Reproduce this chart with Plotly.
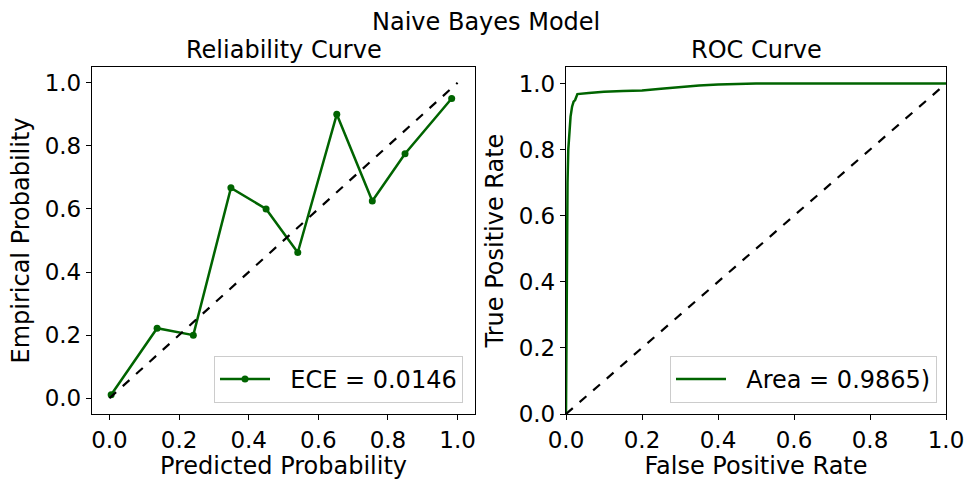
import plotly.graph_objects as go

# Reliability curve data
pred_prob = [0.005, 0.137, 0.241, 0.349, 0.450, 0.541, 0.653, 0.755, 0.849, 0.983]
emp_prob = [0.011, 0.222, 0.200, 0.667, 0.600, 0.462, 0.900, 0.625, 0.775, 0.950]
diag = [0.0, 1.0]

# ROC curve data
fpr = [0.0, 0.002, 0.004, 0.006, 0.009, 0.012, 0.016, 0.020, 0.024, 0.027, 0.030,
       0.06, 0.10, 0.15, 0.20, 0.25, 0.30, 0.35, 0.40, 0.45, 0.50, 1.0]
tpr = [0.0, 0.45, 0.70, 0.80, 0.86, 0.90, 0.93, 0.945, 0.950, 0.958, 0.968,
       0.971, 0.975, 0.977, 0.979, 0.984, 0.990, 0.994, 0.997, 0.999, 1.0, 1.0]

ece_label = "ECE = 0.0146"
auc_label = "Area = 0.9865)"

GREEN = "#006400"
FONT = "DejaVu Sans"
FS = 24
W, H = 971, 480
PAD = "\u00a0\u00a0"

fig = go.Figure()
fig.add_trace(go.Scatter(x=pred_prob, y=emp_prob, mode="lines+markers", name=PAD + ece_label,
                         line=dict(color=GREEN, width=2.5), marker=dict(size=7, color=GREEN),
                         xaxis="x", yaxis="y", legend="legend"))
fig.add_trace(go.Scatter(x=diag, y=diag, mode="lines", showlegend=False,
                         line=dict(color="black", width=2.2, dash="dash"),
                         xaxis="x", yaxis="y"))
fig.add_trace(go.Scatter(x=fpr, y=tpr, mode="lines", name=PAD + auc_label,
                         line=dict(color=GREEN, width=2.5),
                         xaxis="x2", yaxis="y2", legend="legend2"))
fig.add_trace(go.Scatter(x=diag, y=diag, mode="lines", showlegend=False,
                         line=dict(color="black", width=2.2, dash="dash"),
                         xaxis="x2", yaxis="y2"))

def ax(domain, rng, title, anchor, standoff):
    return dict(domain=domain, range=rng, anchor=anchor, automargin=False,
                showline=True, mirror=True, linecolor="black", linewidth=1.3,
                ticks="outside", ticklen=5, tickwidth=1.3, tickcolor="black",
                showgrid=False, zeroline=False, tick0=0, dtick=0.2, tickformat=".1f",
                tickfont=dict(family=FONT, size=23, color="black"),
                title=dict(text=title, font=dict(family=FONT, size=FS, color="black"), standoff=standoff))

xd1 = [92 / W, 475 / W]
xd2 = [566 / W, 946 / W]
yd = [1 - 414 / H, 1 - 67 / H]

legend_common = dict(xanchor="right", yanchor="bottom", bgcolor="white",
                     bordercolor="#cccccc", borderwidth=1, itemwidth=50,
                     font=dict(family=FONT, size=FS, color="black"))

fig.update_layout(
    width=W, height=H,
    margin=dict(l=0, r=0, t=0, b=0),
    paper_bgcolor="white", plot_bgcolor="white",
    font=dict(family=FONT, size=FS, color="black"),
    xaxis=ax(xd1, [-0.05, 1.05], "Predicted Probability", "y", 8),
    yaxis=ax(yd, [-0.05, 1.05], "Empirical Probability", "x", 8),
    xaxis2=ax(xd2, [0, 1], "False Positive Rate", "y2", 8),
    yaxis2=ax(yd, [0, 1.05], "True Positive Rate", "x2", 8),
    legend=dict(x=463 / W, y=1 - 403 / H, **legend_common),
    legend2=dict(x=937 / W, y=1 - 403 / H, **legend_common),
    annotations=[
        dict(text="Naive Bayes Model", x=0.5, y=1 - 22 / H, xref="paper", yref="paper",
             showarrow=False, xanchor="center", yanchor="middle", font=dict(family=FONT, size=FS)),
        dict(text="Reliability Curve", x=(xd1[0] + xd1[1]) / 2, y=1 - 50 / H, xref="paper", yref="paper",
             showarrow=False, xanchor="center", yanchor="middle", font=dict(family=FONT, size=FS)),
        dict(text="ROC Curve", x=(xd2[0] + xd2[1]) / 2, y=1 - 50 / H, xref="paper", yref="paper",
             showarrow=False, xanchor="center", yanchor="middle", font=dict(family=FONT, size=FS)),
    ],
)

fig.write_html("out.html")
